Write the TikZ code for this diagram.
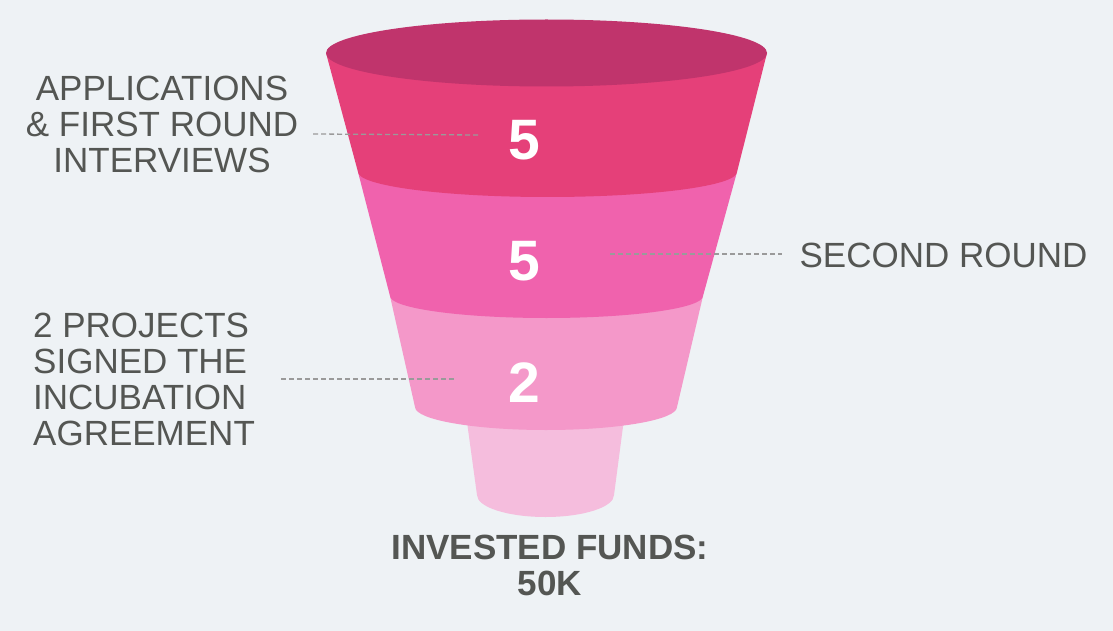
\documentclass[tikz,border=0pt]{standalone}
\usepackage{fontspec}
\setmainfont{Liberation Sans}
\definecolor{bg}{HTML}{EEF2F5}
\definecolor{topc}{HTML}{C0346C}
\definecolor{bandA}{HTML}{E54079}
\definecolor{bandB}{HTML}{F062AD}
\definecolor{bandC}{HTML}{F498C9}
\definecolor{cupc}{HTML}{F5BDDD}
\definecolor{txt}{HTML}{545653}
\definecolor{dashc}{HTML}{9A9A9A}
\begin{document}
\begin{tikzpicture}[x=1pt,y=-1pt,
  label/.style={text=txt,inner sep=0pt,font=\fontsize{35}{36}\selectfont},
  num/.style={text=white,inner sep=0pt,font=\fontsize{57}{57}\selectfont\bfseries},
  leader/.style={draw=dashc,line width=1.3pt,dash pattern=on 5pt off 3pt}]
\fill[bg] (0,0) rectangle (1113,631);
\useasboundingbox (0,0) rectangle (1113,631);
% funnel, bottom to top
\fill[cupc] (464,400) -- (477,495) arc[start angle=180,end angle=360,x radius=68.5pt,y radius=22pt] -- (626.5,400) -- cycle;
\fill[bandC] (390,296) -- (415,407) arc[start angle=180,end angle=360,x radius=131pt,y radius=23pt] -- (703,296) -- cycle;
\fill[bandB] (358,172) -- (390,296) arc[start angle=180,end angle=360,x radius=156.5pt,y radius=22pt] -- (737,172) -- cycle;
\fill[bandA] (326,53) -- (358,172) arc[start angle=180,end angle=360,x radius=189.5pt,y radius=25pt] -- (767,53) -- cycle;
\fill[topc] (546.5,53) ellipse[x radius=220.5pt,y radius=33.5pt];
% numbers
\node[num] (n1) at (524,140) {5};
\node[num] (n2) at (524,261) {5};
\node[num] (n3) at (524,383) {2};
% labels
\node[label,align=center] (l1) at (162,124) {APPLICATIONS\\\& FIRST ROUND\\INTERVIEWS};
\node[label] (l2) at (943.5,255) {SECOND ROUND};
\node[label,align=left,anchor=west] (l3) at (33,379) {2 PROJECTS\\SIGNED THE\\INCUBATION\\AGREEMENT};
\node[label,align=center,font=\fontsize{35}{36}\selectfont\bfseries] (l4) at (550,565.5) {INVESTED FUNDS:\\50K};
% leaders
\coordinate (d1a) at (313,134);
\coordinate (d1b) at (480,135);
\coordinate (d2a) at (610,254);
\coordinate (d2b) at (782,254);
\coordinate (d3a) at (281,379);
\coordinate (d3b) at (456,379);
\draw[leader] (d1a) -- (d1b);
\draw[leader] (d2a) -- (d2b);
\draw[leader] (d3a) -- (d3b);
\end{tikzpicture}
\end{document}
